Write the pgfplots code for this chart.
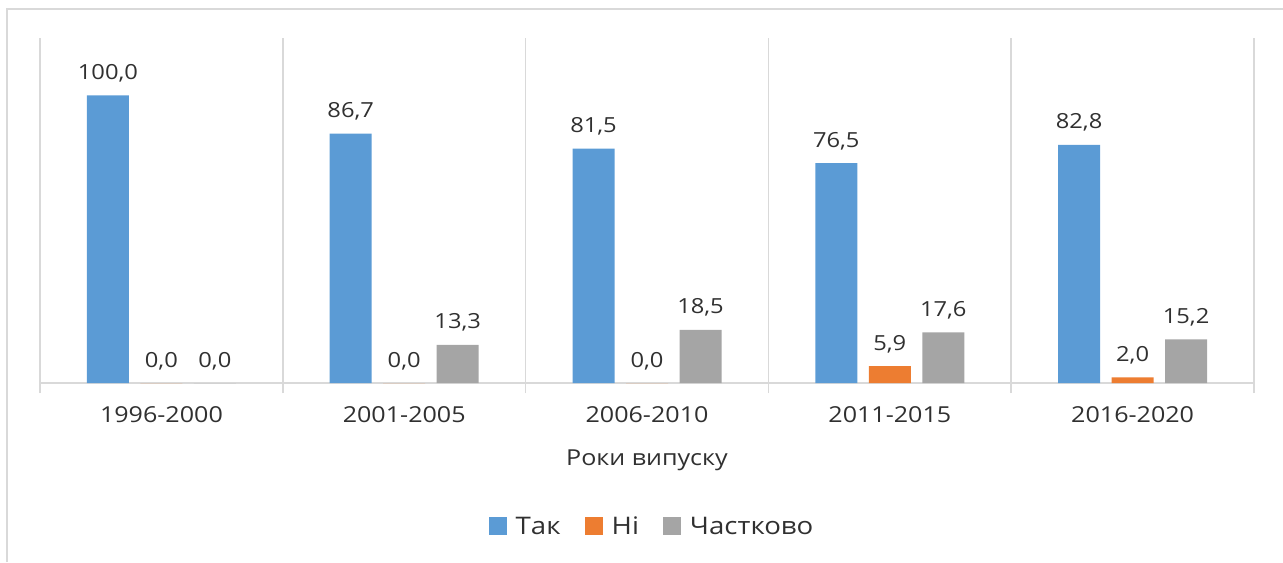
\documentclass[border=0pt]{standalone}
\usepackage{pgfplots}
\pgfplotsset{compat=1.18}
\usepackage{fontspec}
\setmainfont{Open Sans}
\usepackage{graphicx}
\newcommand\sx[1]{\scalebox{1.14}[1]{#1}}
\definecolor{cblue}{HTML}{5B9BD5}
\definecolor{corange}{HTML}{ED7D31}
\definecolor{cgray}{HTML}{A5A5A5}
\definecolor{cgrid}{HTML}{D9D9D9}
\definecolor{ctext}{HTML}{303030}
\begin{document}
\begin{tikzpicture}
\useasboundingbox (0,0) rectangle (641.5pt,281pt);
\draw[cgrid, line width=1pt] (3.5pt,0pt) -- (3.5pt,276.5pt) -- (641.5pt,276.5pt);
\begin{axis}[
  at={(20pt,89.5pt)}, anchor=south west,
  scale only axis, width=607pt, height=172.5pt,
  xmin=-0.5, xmax=4.5, ymin=0, ymax=120,
  clip=false,
  ybar=5.75pt, bar width=21pt,
  hide y axis,
  axis x line*=bottom,
  x axis line style={cgrid, line width=1pt, -},
  xtick={0,...,4},
  xticklabels={\sx{1996-2000},\sx{2001-2005},\sx{2006-2010},\sx{2011-2015},\sx{2016-2020}},
  major tick length=0pt,
  minor xtick={-0.5,0.5,...,4.5},
  xminorgrids,
  minor grid style={cgrid, line width=0.75pt},
  minor tick length=5pt,
  tick align=outside,
  minor x tick style={cgrid, line width=0.75pt},
  xticklabel style={font=\fontsize{11}{13}\selectfont, text=ctext, anchor=base, yshift=-19.5pt},
  xlabel={\sx{Роки випуску}},
  xlabel style={font=\fontsize{11}{13}\selectfont, text=ctext, at={(axis description cs:0.5,0)}, anchor=base, yshift=-41pt},
  /pgf/number format/assume math mode=true,
  nodes near coords={\sx{\pgfmathprintnumber[fixed,fixed zerofill,precision=1,use comma]{\pgfplotspointmeta}}},
  every node near coord/.append style={font=\fontsize{10.4}{12}\selectfont, text=ctext, anchor=base, yshift=8pt},
  legend columns=-1,
  legend style={at={(axis description cs:0.5,0)}, anchor=center, xshift=3pt, yshift=-72pt, draw=none, fill=none,
    font=\fontsize{12.1}{14}\selectfont, text=ctext,
    /tikz/every even column/.append style={column sep=10pt}},
  legend image code/.code={\fill[#1] (0pt,-4pt) rectangle (9pt,5pt); \path (11.5pt,0pt);},
]
\addplot[fill=cblue, draw=none] coordinates {(0,100) (1,86.7) (2,81.5) (3,76.5) (4,82.8)};
\addlegendentry{\sx{Так}}
\addplot[fill=corange, draw=none] coordinates {(0,0) (1,0) (2,0) (3,5.9) (4,2.0)};
\addlegendentry{\sx{Ні}}
\addplot[fill=cgray, draw=none] coordinates {(0,0) (1,13.3) (2,18.5) (3,17.6) (4,15.2)};
\addlegendentry{\sx{Частково}}
\end{axis}
\end{tikzpicture}
\end{document}
